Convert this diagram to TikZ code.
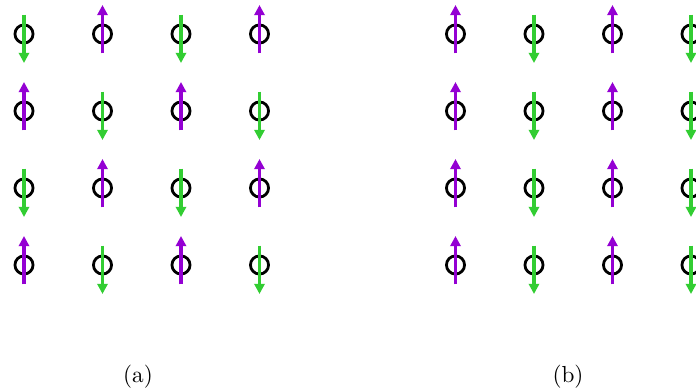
\documentclass[tikz,border=0pt]{standalone}
\usepackage{tikz}
\usetikzlibrary{positioning,arrows.meta,calc}
\definecolor{upcol}{RGB}{148,0,211}
\definecolor{downcol}{RGB}{50,205,50}
\tikzset{
  site/.style={circle,draw=black,line width=1.2pt,minimum size=7.8pt,inner sep=0pt},
  spin/.style={line width=1.3pt,-{Triangle[width=4.4pt,length=4.4pt]}},
}
\newcommand{\spinup}[1]{\draw[spin,upcol] ([yshift=-8.4pt]#1.center) -- ([yshift=12.5pt]#1.center);}
\newcommand{\spindown}[1]{\draw[spin,downcol] ([yshift=8.4pt]#1.center) -- ([yshift=-12.5pt]#1.center);}
\begin{document}
\begin{tikzpicture}[x=0.431pt,y=-0.431pt]
\useasboundingbox (0,0) rectangle (696,388);
\foreach \i in {1,...,4} \foreach \j in {1,...,4} {
  \node[site] (a\i\j) at ({24+78.5*(\i-1)},{34+77*(\j-1)}) {};
  \node[site] (b\i\j) at ({455.5+78.5*(\i-1)},{34+77*(\j-1)}) {};
  \pgfmathtruncatemacro\sa{mod(\i+\j,2)}
  \pgfmathtruncatemacro\sb{mod(\i,2)}
  \ifnum\sa=1 \spinup{a\i\j} \else \spindown{a\i\j} \fi
  \ifnum\sb=1 \spinup{b\i\j} \else \spindown{b\i\j} \fi
}
\node (capa) at (138,376.5) {(a)};
\node (capb) at (568,376.5) {(b)};
\end{tikzpicture}
\end{document}
